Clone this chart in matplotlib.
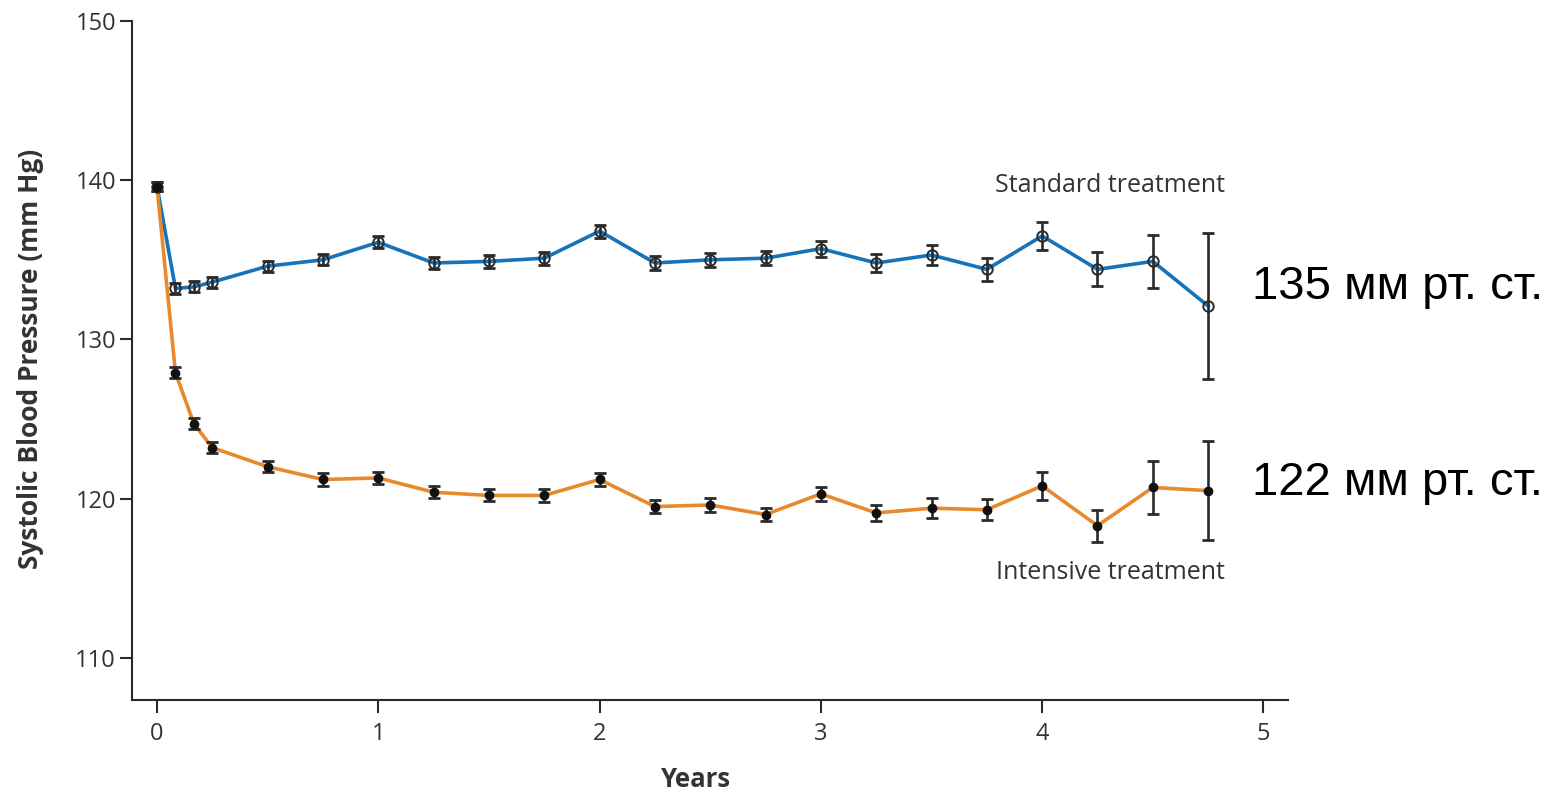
import matplotlib
matplotlib.use("Agg")
import matplotlib.pyplot as plt

# Follow-up times (years) and mean systolic pressure with 95% CI half-widths
years = [0, 1/12, 2/12, 3/12, 0.5, 0.75, 1.0, 1.25, 1.5, 1.75, 2.0, 2.25,
         2.5, 2.75, 3.0, 3.25, 3.5, 3.75, 4.0, 4.25, 4.5, 4.75]

standard_sbp = [139.6, 133.2, 133.3, 133.6, 134.6, 135.0, 136.1, 134.8, 134.9,
                135.1, 136.8, 134.8, 135.0, 135.1, 135.7, 134.8, 135.3, 134.4,
                136.5, 134.4, 134.9, 132.1]
standard_err = [0.3, 0.35, 0.35, 0.35, 0.35, 0.35, 0.38, 0.38, 0.4, 0.4, 0.4, 0.42,
                0.45, 0.45, 0.5, 0.58, 0.63, 0.74, 0.9, 1.06, 1.65, 4.58]

intensive_sbp = [139.6, 127.9, 124.7, 123.2, 122.0, 121.2, 121.3, 120.4, 120.2,
                 120.2, 121.2, 119.5, 119.6, 119.0, 120.3, 119.1, 119.4, 119.3,
                 120.8, 118.3, 120.7, 120.5]
intensive_err = [0.3, 0.35, 0.35, 0.35, 0.35, 0.38, 0.38, 0.38, 0.38, 0.4, 0.42, 0.42,
                 0.42, 0.42, 0.45, 0.52, 0.62, 0.67, 0.86, 1.0, 1.64, 3.12]

x_ticks = [0, 1, 2, 3, 4, 5]
y_ticks = [110, 120, 130, 140, 150]

BLUE = "#1673b9"
ORANGE = "#e88a2c"
INK = "#2a2a2a"
TEXT = "#333333"

plt.rcParams["font.family"] = ["Open Sans", "DejaVu Sans"]

fig = plt.figure(figsize=(15.55, 7.95), dpi=100)
ax = fig.add_axes([0.0849, 0.1195, 0.8283 - 0.0849, 0.9736 - 0.1195])

# connecting lines
ax.plot(years, standard_sbp, color=BLUE, lw=2.6, zorder=2)
ax.plot(years, intensive_sbp, color=ORANGE, lw=2.6, zorder=2)

# error bars
ax.errorbar(years, standard_sbp, yerr=standard_err, fmt="none", ecolor=INK,
            elinewidth=1.9, capsize=4.2, capthick=2.0, zorder=3)
ax.errorbar(years, intensive_sbp, yerr=intensive_err, fmt="none", ecolor=INK,
            elinewidth=1.9, capsize=4.2, capthick=2.0, zorder=3)

# markers: open circles for standard, filled dots for intensive
ax.plot(years, standard_sbp, ls="none", marker="o", ms=7.5, mfc="none",
        mec=INK, mew=1.4, zorder=4)
ax.plot(years, intensive_sbp, ls="none", marker="o", ms=6, mfc="#111111",
        mec="#111111", zorder=4)

ax.set_xlim(-0.113, 5.111)
ax.set_ylim(107.35, 150)
ax.set_xticks(x_ticks)
ax.set_yticks(y_ticks)

for side in ("top", "right"):
    ax.spines[side].set_visible(False)
for side in ("left", "bottom"):
    ax.spines[side].set_color(INK)
    ax.spines[side].set_linewidth(1.5)

ax.tick_params(axis="both", direction="out", colors=INK, width=1.5,
               labelsize=17, labelcolor=TEXT)
ax.tick_params(axis="x", length=9, pad=7)
ax.tick_params(axis="y", length=8.5, pad=3)

ax.set_xlabel("Years", fontsize=18.5, fontweight="bold", color=TEXT)
ax.xaxis.set_label_coords(0.488, -0.1178)
ax.xaxis.label.set_va("center")
ax.set_ylabel("Systolic Blood Pressure (mm Hg)", fontsize=19, fontweight="bold",
              color=TEXT)
ax.yaxis.set_label_coords(-0.0882, 0.502)
ax.yaxis.label.set_va("center")

ax.text(4.826, 139.65, "Standard treatment", fontsize=18, color=TEXT,
        ha="right", va="center")
ax.text(4.826, 115.35, "Intensive treatment", fontsize=18, color=TEXT,
        ha="right", va="center")

fig.text(0.8051, 0.639, "135 мм рт. ст.", fontsize=34,
         family=["Liberation Sans", "DejaVu Sans"], color="black",
         ha="left", va="center")
fig.text(0.8051, 0.3925, "122 мм рт. ст.", fontsize=34,
         family=["Liberation Sans", "DejaVu Sans"], color="black",
         ha="left", va="center")

fig.savefig("out.png", dpi=100, facecolor="white")
